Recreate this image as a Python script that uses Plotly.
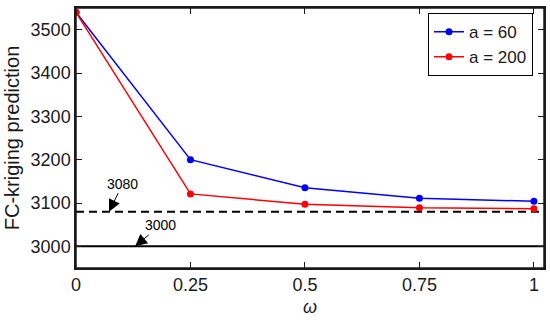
import plotly.graph_objects as go

omega = [0, 0.25, 0.5, 0.75, 1]
pred_a60 = [3540, 3200, 3135, 3111, 3104]
pred_a200 = [3540, 3121, 3097, 3089, 3087]
ref_dashed = 3080
ref_solid = 3000
x_ticks = [0, 0.25, 0.5, 0.75, 1]
x_tick_labels = ["0", "0.25", "0.5", "0.75", "1"]
y_ticks = [3000, 3100, 3200, 3300, 3400, 3500]

FONT = "Liberation Sans, Arial, sans-serif"
INK = "#1a1a1a"

fig = go.Figure()
xr = [0, 1.022]
fig.add_trace(go.Scatter(x=xr, y=[ref_dashed, ref_dashed], mode="lines",
                         line=dict(color="black", width=2, dash="8px,5px"), showlegend=False))
fig.add_trace(go.Scatter(x=xr, y=[ref_solid, ref_solid], mode="lines",
                         line=dict(color="black", width=2), showlegend=False))
fig.add_trace(go.Scatter(x=omega, y=pred_a60, mode="lines+markers", name="a = 60",
                         line=dict(color="#0000ff", width=1.5),
                         marker=dict(color="#0000ff", size=7)))
fig.add_trace(go.Scatter(x=omega, y=pred_a200, mode="lines+markers", name="a = 200",
                         line=dict(color="#ff0000", width=1.5),
                         marker=dict(color="#ff0000", size=7)))

fig.add_annotation(x=0.072, y=ref_dashed, text=str(ref_dashed), showarrow=True,
                   ax=14, ay=-28, arrowhead=2, arrowsize=2.4, arrowwidth=1,
                   arrowcolor="black", standoff=0,
                   font=dict(family=FONT, size=14, color="black"))
fig.add_annotation(x=0.129, y=ref_solid, text=str(ref_solid), showarrow=True,
                   ax=25, ay=-21, arrowhead=2, arrowsize=2.4, arrowwidth=1,
                   arrowcolor="black", standoff=0,
                   font=dict(family=FONT, size=14, color="black"))

axis_common = dict(showline=True, linecolor=INK, linewidth=1.5, mirror="allticks",
                   ticks="inside", ticklen=6, tickcolor=INK, tickwidth=1.2,
                   showgrid=False, zeroline=False, automargin=False,
                   tickfont=dict(family=FONT, size=18, color=INK))
fig.update_xaxes(range=xr, tickvals=x_ticks, ticktext=x_tick_labels,
                 title=dict(text="<i>ω</i>", font=dict(family=FONT, size=18, color=INK), standoff=6),
                 **axis_common)
fig.update_yaxes(range=[2950, 3550], tickvals=y_ticks,
                 title=dict(text="FC-kriging prediction", font=dict(family=FONT, size=20, color=INK), standoff=6),
                 **axis_common)

fig.add_shape(type="rect", xref="paper", yref="paper", x0=0, x1=1, y0=0, y1=1,
              line=dict(color=INK, width=1.5), layer="above")

fig.update_layout(
    width=550, height=327,
    margin=dict(l=76, r=6, t=8, b=59),
    paper_bgcolor="white", plot_bgcolor="white",
    font=dict(family=FONT, color=INK),
    legend=dict(x=0.9765, y=0.98, xanchor="right", yanchor="top",
                bordercolor="black", borderwidth=1, bgcolor="white",
                font=dict(family=FONT, size=17, color=INK),
                tracegroupgap=0, itemwidth=30),
)

fig.write_html("out.html", config={"displayModeBar": False},
               post_script="document.body.style.margin='0';")
